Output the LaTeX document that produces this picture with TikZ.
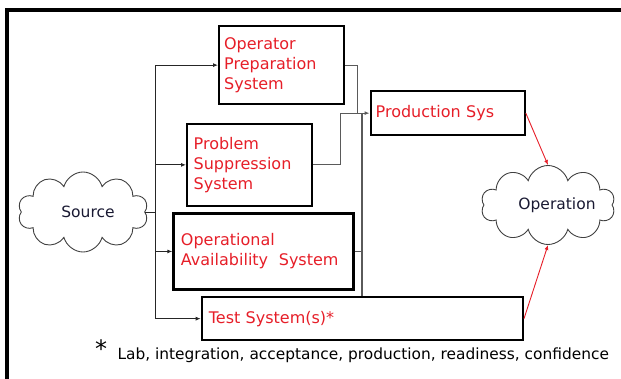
\documentclass[tikz,border=0pt]{standalone}
\usepackage{fontspec}
\setmainfont{DejaVu Sans}
\usetikzlibrary{shapes.symbols,arrows.meta}
\definecolor{sysred}{RGB}{230,30,40}
\definecolor{cloudink}{RGB}{25,25,50}
\definecolor{wiregray}{RGB}{90,90,90}

\begin{document}
\begin{tikzpicture}[x=1pt, y=-1pt,
    sysbox/.style={draw, line width=2.3pt, rectangle, anchor=north west, inner ysep=0pt, align=left, text=sysred, font=\fontsize{16}{20}\selectfont},
    puff/.style={draw=black!75, line width=0.9pt, cloud, cloud puffs=10, cloud ignores aspect},
    cloudtext/.style={text=cloudink, font=\fontsize{15.5}{18}\selectfont},
    trunk/.style={draw=black!85, line width=0.9pt},
    feed/.style={trunk, -{Latex[length=5pt,width=4pt]}},
    wire/.style={draw=wiregray, line width=1.2pt},
    redline/.style={draw=sysred, line width=0.9pt, -{Latex[length=5pt,width=4pt]}}]
    \useasboundingbox (0,0) rectangle (621,379);
    \draw[line width=4pt] (7,379) -- (7,10) -- (621,10);

    \node[sysbox, inner xsep=5pt, text width=115pt, minimum height=78pt] (ops) at (218,25) {Operator\\Preparation\\System};
    \node[sysbox, inner xsep=6.5pt, text width=112pt, minimum height=82pt] (pss) at (186,122.7) {Problem\\Suppression\\System};
    \node[sysbox, inner xsep=7.5pt, text width=165pt, minimum height=76pt] (oas) at (172.3,212.3) {Operational\\Availability\ \ System};
    \node[sysbox, inner xsep=7pt, text width=307pt, minimum height=43pt] (test) at (200.7,296) {Test System(s)*};
    \node[sysbox, inner xsep=5pt, text width=144pt, minimum height=44pt] (prod) at (369.5,90) {Production Sys};

    \node[puff, minimum width=130pt, minimum height=80pt, label={[cloudtext, xshift=5pt]center:Source}] (src) at (83,212) {};
    \node[puff, minimum width=134pt, minimum height=79pt, label={[cloudtext, xshift=9pt]center:Operation}] (opn) at (548,205) {};

    \coordinate (spine) at ([xshift=-62.3pt]ops.west);
    \coordinate (bus) at ([xshift=-7.5pt]prod.west);
    \draw[trunk] (src.east) -- (src.east -| spine);
    \draw[trunk] (spine) -- (spine |- test.west);
    \foreach \n in {ops,pss,oas,test} {
      \draw[feed] (spine |- \n.west) -- (\n.west);
    }
    \draw[wire] (ops.east) -| ([xshift=-4.3pt]bus);
    \draw[wire, -{Latex[length=5pt,width=4pt]}] (pss.east) -| ([xshift=-21.3pt]bus) -- (prod.west);
    \draw[wire] (oas.east) -- (oas.east -| bus);
    \draw[wire] (bus) -- (bus |- test.north);
    \draw[redline] (prod.east) -- (opn.north);
    \draw[redline] (test.east) -- (opn.south);

    \node[anchor=west, font=\fontsize{15.4}{18}\selectfont] (note) at (114,355) {Lab, integration, acceptance, production, readiness, confidence};
    \node[font=\fontsize{24}{24}\selectfont] (star) at (101,349) {*};
  \end{tikzpicture}
\end{document}
